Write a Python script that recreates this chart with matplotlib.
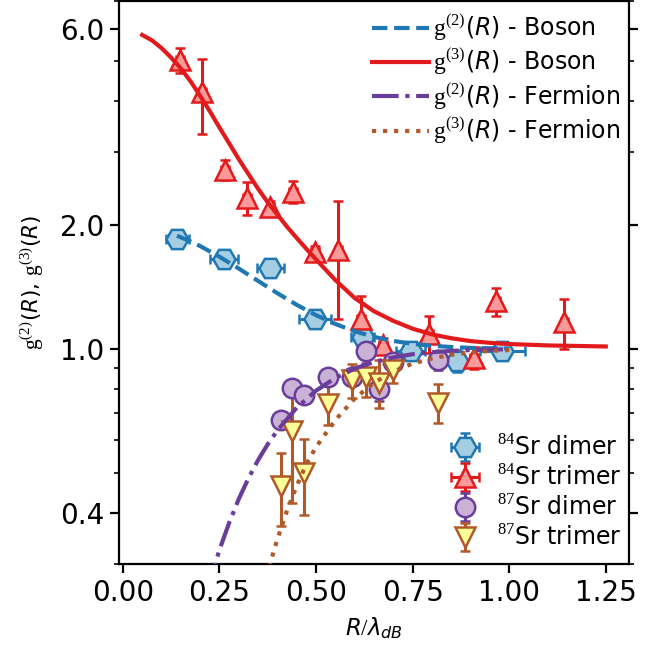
import matplotlib
matplotlib.use("Agg")
import matplotlib.pyplot as plt
from matplotlib.ticker import FixedLocator, FixedFormatter, NullFormatter
from matplotlib.legend_handler import HandlerErrorbar
from matplotlib.container import ErrorbarContainer

plt.rcParams['font.family'] = ['DejaVu Sans']
plt.rcParams['mathtext.fontset'] = 'custom'
plt.rcParams['mathtext.rm'] = 'Liberation Serif'
plt.rcParams['mathtext.it'] = 'DejaVu Sans:italic'
plt.rcParams['mathtext.bf'] = 'DejaVu Sans:bold'
plt.rcParams['mathtext.sf'] = 'DejaVu Sans'

# ---- measured correlations ----
sr84_dimer_R = [0.141, 0.261, 0.382, 0.498, 0.621, 0.745, 0.864, 0.982]
sr84_dimer_R_err = [0.030, 0.036, 0.035, 0.041, 0.030, 0.038, 0.040, 0.058]
sr84_dimer_g = [1.848, 1.652, 1.577, 1.184, 1.068, 0.987, 0.937, 0.987]
sr84_dimer_g_err = [0.02, 0.02, 0.02, 0.02, 0.03, 0.02, 0.06, 0.02]

sr84_trimer_R = [0.148, 0.206, 0.264, 0.322, 0.382, 0.440, 0.498, 0.558,
                 0.616, 0.674, 0.792, 0.908, 0.967, 1.143]
sr84_trimer_R_err = [0.010] * 14
sr84_trimer_g = [5.03, 4.20, 2.72, 2.33, 2.21, 2.41, 1.72, 1.735,
                 1.182, 1.023, 1.09, 0.953, 1.305, 1.16]
sr84_trimer_g_err = [0.35, 0.87, 0.15, 0.22, 0.08, 0.15, 0.06, 0.55,
                     0.16, 0.04, 0.11, 0.06, 0.10, 0.16]

sr87_R = [0.410, 0.439, 0.468, 0.530, 0.594, 0.629, 0.664, 0.700, 0.816]
sr87_dimer_g = [0.673, 0.804, 0.774, 0.853, 0.853, 0.987, 0.799, 0.928, 0.940]
sr87_dimer_g_err = [0.02, 0.03, 0.02, 0.03, 0.03, 0.06, 0.05, 0.03, 0.05]
sr87_trimer_g = [0.465, 0.632, 0.500, 0.737, 0.840, 0.856, 0.829, 0.889, 0.741]
sr87_trimer_g_err = [0.093, 0.21, 0.105, 0.084, 0.078, 0.09, 0.11, 0.06, 0.08]

# ---- theory curves ----
boson_g2_R = [0.14, 0.175, 0.20, 0.25, 0.30, 0.35, 0.40, 0.45, 0.50, 0.55,
              0.60, 0.65, 0.70, 0.75, 0.80, 0.85, 0.90, 0.95, 1.00]
boson_g2 = [1.884, 1.825, 1.778, 1.675, 1.568, 1.463, 1.366, 1.280, 1.208, 1.150,
            1.104, 1.070, 1.046, 1.029, 1.018, 1.011, 1.006, 1.004, 1.002]

boson_g3_R = [0.05, 0.075, 0.10, 0.125, 0.15, 0.175, 0.20, 0.225, 0.25, 0.275,
              0.30, 0.325, 0.35, 0.375, 0.40, 0.425, 0.45, 0.475, 0.50, 0.55,
              0.60, 0.65, 0.70, 0.75, 0.80, 0.85, 0.90, 0.95, 1.00, 1.10, 1.25]
boson_g3 = [5.79, 5.62, 5.38, 5.10, 4.80, 4.47, 4.12, 3.78, 3.45, 3.16,
            2.89, 2.66, 2.45, 2.27, 2.12, 1.98, 1.86, 1.75, 1.65, 1.47,
            1.33, 1.235, 1.17, 1.12, 1.085, 1.062, 1.045, 1.035, 1.028, 1.020, 1.014]

fermion_g2_R = [0.22, 0.25, 0.275, 0.30, 0.325, 0.35, 0.375, 0.40, 0.45, 0.50,
                0.55, 0.60, 0.65, 0.70, 0.75, 0.80, 0.85, 0.90, 0.95, 1.00]
fermion_g2 = [0.262, 0.325, 0.378, 0.432, 0.485, 0.537, 0.587, 0.634, 0.720, 0.792,
              0.850, 0.896, 0.930, 0.954, 0.971, 0.982, 0.989, 0.994, 0.9965, 0.998]

fermion_g3_R = [0.38, 0.39, 0.40, 0.425, 0.45, 0.475, 0.50, 0.55, 0.60, 0.65,
                0.70, 0.75, 0.80, 0.85, 0.90, 0.95, 1.00]
fermion_g3 = [0.295, 0.322, 0.345, 0.405, 0.465, 0.525, 0.578, 0.672, 0.758, 0.828,
              0.881, 0.922, 0.948, 0.968, 0.981, 0.989, 0.994]

y_ticks = [0.4, 1.0, 2.0, 6.0]
y_tick_labels = ['0.4', '1.0', '2.0', '6.0']
y_minor = [0.3, 0.5, 0.6, 0.7, 0.8, 0.9, 3.0, 4.0, 5.0, 7.0]
x_ticks = [0.0, 0.25, 0.50, 0.75, 1.00, 1.25]
x_tick_labels = ['0.00', '0.25', '0.50', '0.75', '1.00', '1.25']

fig = plt.figure(figsize=(6.64, 6.48), dpi=100)
ax = fig.add_axes([0.1792, 0.1292, 0.768, 0.8693])

err_kw = dict(elinewidth=2.2, capsize=3.5, capthick=2.2, mew=1.8, linestyle='none')

e1 = ax.errorbar(sr84_dimer_R, sr84_dimer_g, yerr=sr84_dimer_g_err, xerr=sr84_dimer_R_err,
                 marker='H', ms=16, mfc='#a6cee3', mec='#1f78b4', ecolor='#1f78b4',
                 label=r'$^{84}$Sr dimer', zorder=3, **err_kw)
e2 = ax.errorbar(sr84_trimer_R, sr84_trimer_g, yerr=sr84_trimer_g_err, xerr=sr84_trimer_R_err,
                 marker='^', ms=15, mfc='#fb9a99', mec='#e31a1c', ecolor='#e31a1c',
                 label=r'$^{84}$Sr trimer', zorder=3, **err_kw)
e3 = ax.errorbar(sr87_R, sr87_dimer_g, yerr=sr87_dimer_g_err,
                 marker='o', ms=14, mfc='#cab2d6', mec='#6a3d9a', ecolor='#6a3d9a',
                 label=r'$^{87}$Sr dimer', zorder=3, **err_kw)
e4 = ax.errorbar(sr87_R, sr87_trimer_g, yerr=sr87_trimer_g_err,
                 marker='v', ms=15, mfc='#ffff99', mec='#b15928', ecolor='#b15928',
                 label=r'$^{87}$Sr trimer', zorder=3, **err_kw)

l1, = ax.plot(boson_g2_R, boson_g2, ls='--', color='#1f78b4', lw=3, zorder=4,
              label=r'$\mathrm{g}^{(2)}$($R$) - Boson')
l2, = ax.plot(boson_g3_R, boson_g3, ls='-', color='#e31a1c', lw=3, zorder=4,
              label=r'$\mathrm{g}^{(3)}$($R$) - Boson')
l3, = ax.plot(fermion_g2_R, fermion_g2, ls='-.', color='#6a3d9a', lw=3, zorder=4,
              label=r'$\mathrm{g}^{(2)}$($R$) - Fermion')
l4, = ax.plot(fermion_g3_R, fermion_g3, ls=':', color='#b15928', lw=3, zorder=4,
              label=r'$\mathrm{g}^{(3)}$($R$) - Fermion')

ax.set_yscale('log')
ax.set_xlim(-0.01, 1.31)
ax.set_ylim(0.3, 7.0)
ax.yaxis.set_major_locator(FixedLocator(y_ticks))
ax.yaxis.set_major_formatter(FixedFormatter(y_tick_labels))
ax.yaxis.set_minor_locator(FixedLocator(y_minor))
ax.yaxis.set_minor_formatter(NullFormatter())
ax.xaxis.set_major_locator(FixedLocator(x_ticks))
ax.xaxis.set_major_formatter(FixedFormatter(x_tick_labels))

for s in ax.spines.values():
    s.set_linewidth(1.6)
ax.tick_params(which='both', direction='out', right=True, top=False)
ax.tick_params(which='major', length=6.5, width=1.6, labelsize=20, pad=4)
ax.tick_params(which='minor', length=3.5, width=1.2)

ax.set_xlabel(r'$R/\lambda_{dB}$', fontsize=16.5, labelpad=6)
ax.set_ylabel(r'$\mathrm{g}^{(2)}$($R$), $\mathrm{g}^{(3)}$($R$)', fontsize=15.5)
ax.yaxis.set_label_coords(-0.143, 0.5)

leg1 = ax.legend(handles=[l1, l2, l3, l4], loc='upper right', frameon=False,
                 fontsize=17, handlelength=2.4, handletextpad=0.2,
                 labelspacing=0.15, borderaxespad=0.0, borderpad=0.2,
                 bbox_to_anchor=(0.993, 0.988))
ax.add_artist(leg1)
ax.legend(handles=[e1, e2, e3, e4], loc='lower right', frameon=False,
          fontsize=17, handlelength=1.5, handletextpad=0.6,
          labelspacing=0.2, borderaxespad=0.0, borderpad=0.2,
          bbox_to_anchor=(0.995, 0.016),
          handler_map={ErrorbarContainer: HandlerErrorbar(xerr_size=0.6, yerr_size=0.6)})

fig.savefig('out.png', dpi=100)
